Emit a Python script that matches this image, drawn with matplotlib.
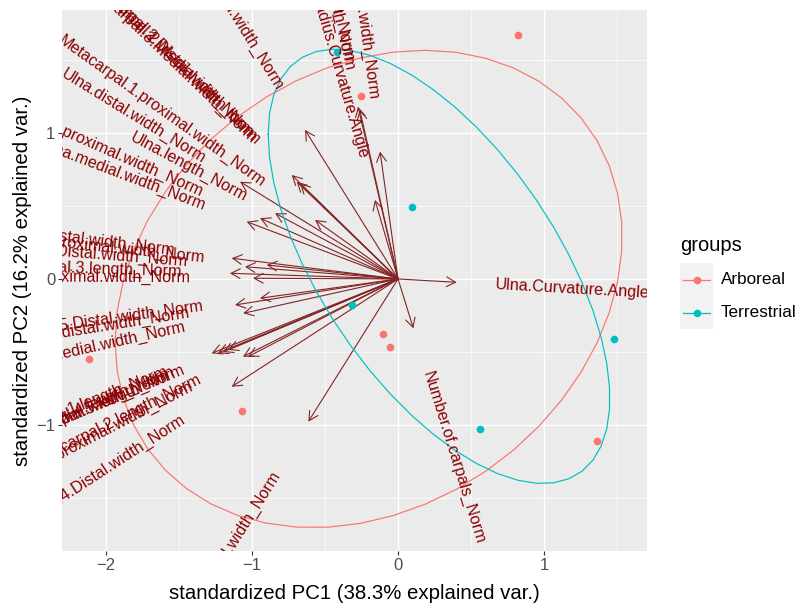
import numpy as np
import matplotlib
matplotlib.use("Agg")
import matplotlib.pyplot as plt
from matplotlib import transforms
from matplotlib.patches import Rectangle
from matplotlib.lines import Line2D

plt.rcParams["font.family"] = ["Liberation Sans", "DejaVu Sans"]

GROUP_NAMES = ["Arboreal", "Terrestrial"]
GROUP_COLORS = ["#F8766D", "#00BFC4"]

# standardized PC scores per group
ARBOREAL_PC1 = [0.822, -0.253, -0.101, -0.053, -1.071, 1.361, -2.114]
ARBOREAL_PC2 = [1.671, 1.253, -0.377, -0.466, -0.904, -1.108, -0.548]
TERRESTRIAL_PC1 = [0.094, -0.317, 1.482, 0.562, -0.418]
TERRESTRIAL_PC2 = [0.495, -0.178, -0.413, -1.027, 1.555]

# variable loadings (arrow ends)
VAR_NAMES = [
    "Ulna.Curvature.Angle", "Number.of.carpals_Norm",
    "Radius.length_Norm", "Radius.medial.width_Norm",
    "Radius.proximal.width_Norm", "Radius.Curvature.Angle",
    "Ulna.proximal.width_Norm",
    "Metacarpal.2.Distal.width_Norm", "Metacarpal.3.Medial.width_Norm",
    "Metacarpal.2.Medial.width_Norm", "Ulna.distal.width_Norm",
    "Ulna.length_Norm", "Metacarpal.1.proximal.width_Norm",
    "Metacarpal.4.proximal.width_Norm", "Ulna.medial.width_Norm",
    "Metacarpal.1.Distal.width_Norm", "Metacarpal.5.proximal.width_Norm",
    "Metacarpal.3.Distal.width_Norm", "Metacarpal.3.length_Norm",
    "Metacarpal.3.proximal.width_Norm", "Metacarpal.5.Distal.width_Norm",
    "Radius.distal.width_Norm", "Metacarpal.5.Medial.width_Norm",
    "Metacarpal.1.length_Norm", "Metacarpal.4.length_Norm",
    "Metacarpal.1.Medial.width_Norm", "Metacarpal.5.length_Norm",
    "Metacarpal.2.length_Norm", "Metacarpal.2.proximal.width_Norm",
    "Metacarpal.4.Distal.width_Norm", "Metacarpal.4.Medial.width_Norm",
]
VAR_PC1 = [
    0.402, 0.105,
    -0.274, -0.262,
    -0.123, -0.158,
    -0.637,
    -0.728, -0.694,
    -0.671, -1.082,
    -0.842, -0.568,
    -0.945, -1.036,
    -1.139, -0.899,
    -1.048, -1.151,
    -0.993, -0.945,
    -1.116, -1.060,
    -1.276, -1.233,
    -1.199, -1.164,
    -1.062, -1.027,
    -1.139, -0.614,
]
VAR_PC2 = [
    -0.023, -0.338,
    1.180, 1.160,
    0.872, 0.541,
    1.021,
    0.712, 0.666,
    0.654, 0.666,
    0.450, 0.404,
    0.416, 0.392,
    0.142, 0.096,
    0.084, 0.039,
    0.005, -0.132,
    -0.178, -0.235,
    -0.509, -0.507,
    -0.500, -0.486,
    -0.532, -0.532,
    -0.738, -0.977,
]

ARROW_COLOR = "#832424"
LABEL_COLOR = "#8B0000"


def normal_ellipse(px, py, prob=0.68, n=50):
    pts = np.column_stack([px, py])
    mu = pts.mean(axis=0)
    sigma = np.cov(pts, rowvar=False)
    ed = np.sqrt(-2 * np.log(1 - prob))
    theta = np.linspace(-np.pi, np.pi, n)
    circle = np.column_stack([np.cos(theta), np.sin(theta)])
    ell = circle @ np.linalg.cholesky(sigma).T * ed + mu
    return ell[:, 0], ell[:, 1]


def add_var_label(ax, x, y, name, renderer):
    angle = np.degrees(np.arctan(y / x))
    hjust = (1 - 1.5 * np.sign(x)) / 2
    t = ax.text(x, y, name, ha="left", va="center", rotation_mode="anchor",
                fontsize=11.6, color=LABEL_COLOR, clip_on=True, zorder=5)
    w = t.get_window_extent(renderer).width
    shift = -hjust * w
    rad = np.radians(angle)
    t.set_transform(transforms.offset_copy(
        ax.transData, fig=ax.figure,
        x=shift * np.cos(rad), y=shift * np.sin(rad), units="dots"))
    t.set_rotation(angle)


fig = plt.figure(figsize=(8.01, 6.06), dpi=100)
ax = fig.add_axes([62.3 / 801, 55 / 606, 584.7 / 801, 541 / 606])
ax.set_facecolor("#EBEBEB")
for s in ax.spines.values():
    s.set_visible(False)

ax.set_xlim(-2.299, 1.705)
ax.set_ylim(-1.863, 1.842)
ax.set_xticks([-2, -1, 0, 1])
ax.set_yticks([-1, 0, 1])
ax.set_xticks([-1.5, -0.5, 0.5, 1.5], minor=True)
ax.set_yticks([-1.5, -0.5, 0.5, 1.5], minor=True)
ax.grid(True, which="major", color="white", linewidth=1.0, zorder=0)
ax.grid(True, which="minor", color="white", linewidth=0.5, zorder=0)
ax.set_axisbelow(True)
ax.tick_params(which="major", length=3, width=0.8, color="#333333",
               labelsize=12, labelcolor="#4D4D4D", pad=2)
ax.tick_params(which="minor", length=0)

# loading arrows
for vx, vy in zip(VAR_PC1, VAR_PC2):
    ax.annotate("", xy=(vx, vy), xytext=(0, 0),
                arrowprops=dict(arrowstyle="->,head_length=0.65,head_width=0.35",
                                color=ARROW_COLOR, lw=0.8,
                                shrinkA=0, shrinkB=0),
                zorder=2)

# scores and 68% normal ellipses
groups = [(ARBOREAL_PC1, ARBOREAL_PC2), (TERRESTRIAL_PC1, TERRESTRIAL_PC2)]
for (gx, gy), color in zip(groups, GROUP_COLORS):
    ax.plot(gx, gy, "o", color=color, markersize=5.5, markeredgewidth=0, zorder=3)
for (gx, gy), color in zip(groups, GROUP_COLORS):
    ex, ey = normal_ellipse(gx, gy)
    ax.plot(ex, ey, color=color, linewidth=0.85, zorder=4)

renderer = fig.canvas.get_renderer()
for name, vx, vy in zip(VAR_NAMES, VAR_PC1, VAR_PC2):
    add_var_label(ax, vx, vy, name, renderer)

ax.set_xlabel("standardized PC1 (38.3% explained var.)", fontsize=14.7, labelpad=8)
ax.set_ylabel("standardized PC2 (16.2% explained var.)", fontsize=14.7, labelpad=3)

# legend
fig.text(680 / 801, 1 - 245 / 606, "groups", fontsize=14.5, va="center", ha="left")
for i, (name, color) in enumerate(zip(GROUP_NAMES, GROUP_COLORS)):
    top = 263 + i * 33
    fig.add_artist(Rectangle((680 / 801, 1 - (top + 33) / 606), 33 / 801, 33 / 606,
                             transform=fig.transFigure, facecolor="#F2F2F2",
                             edgecolor="none"))
    yc = 1 - (top + 16.5) / 606
    fig.add_artist(Line2D([683 / 801, 710 / 801], [yc, yc], transform=fig.transFigure,
                          color=color, linewidth=0.9))
    fig.add_artist(Line2D([696.5 / 801], [yc], transform=fig.transFigure,
                          color=color, marker="o", markersize=5.5, markeredgewidth=0))
    fig.text(721 / 801, yc, name, fontsize=12.3, va="center", ha="left")

fig.savefig("out.png", dpi=100)
